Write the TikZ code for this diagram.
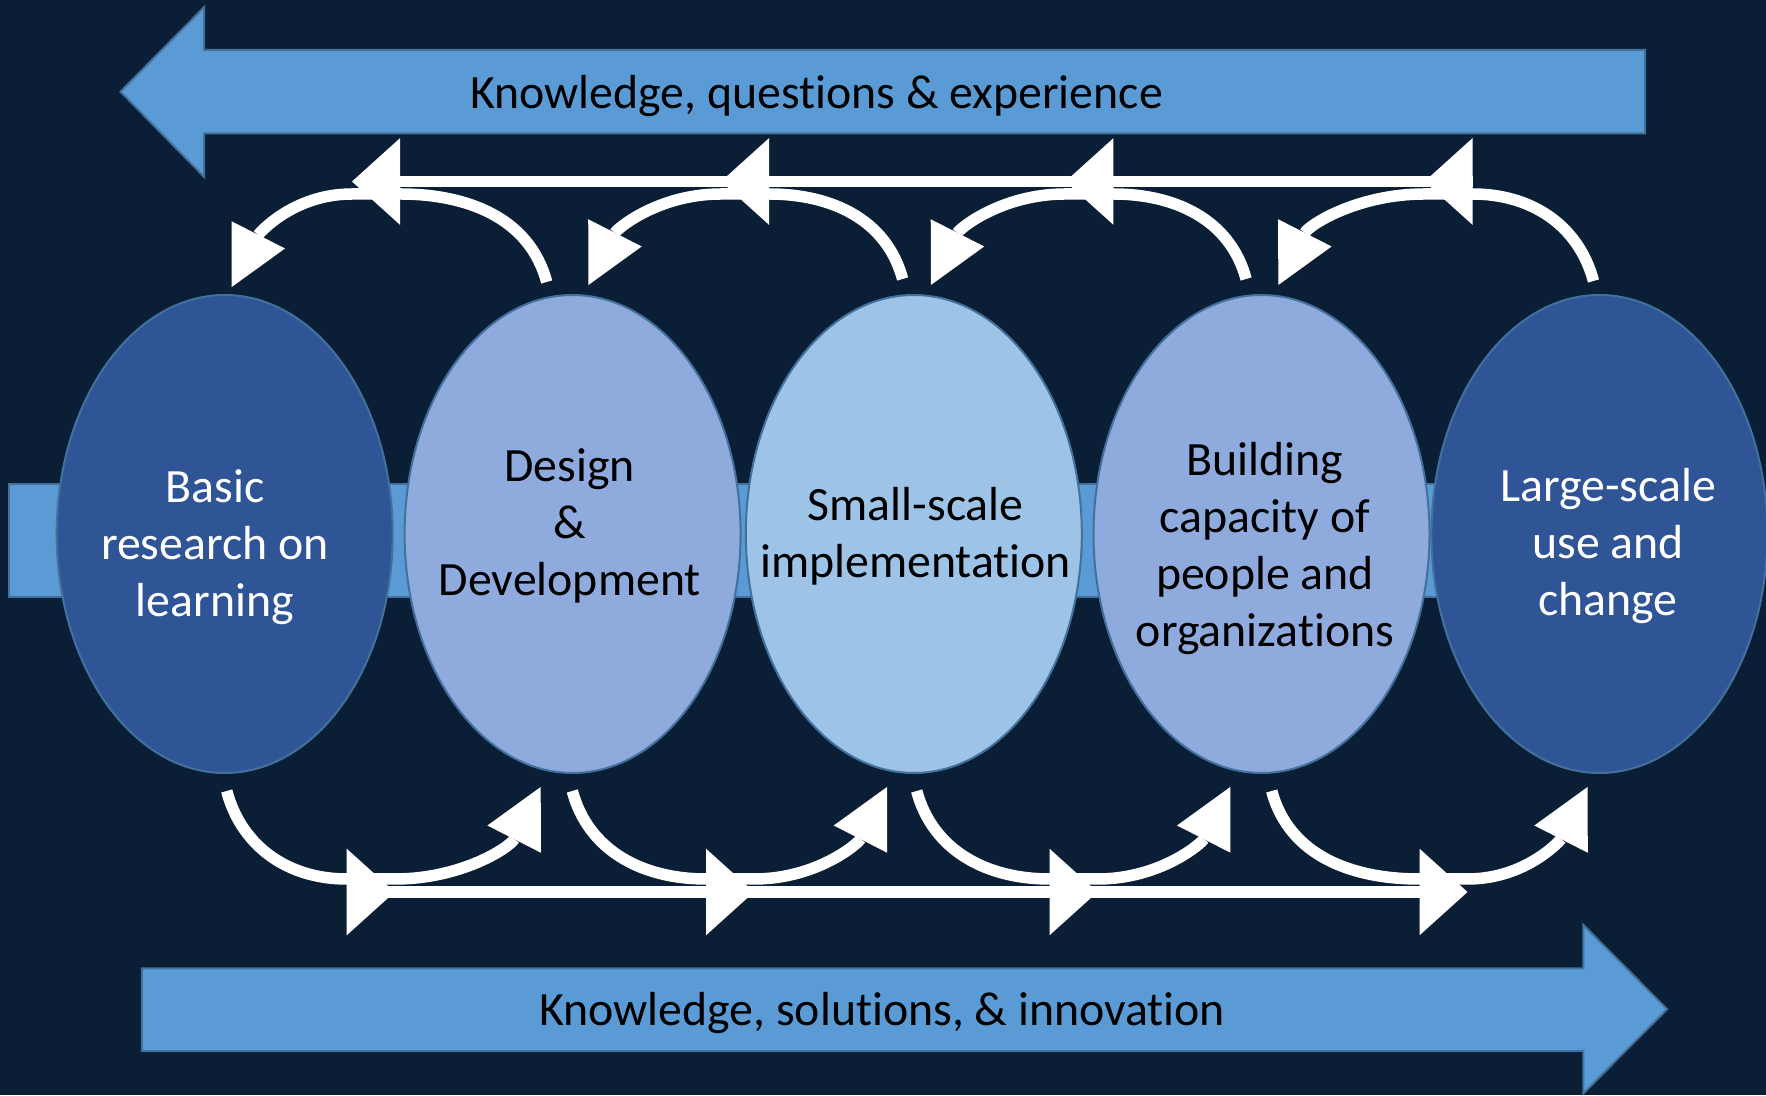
\documentclass[tikz,border=0pt]{standalone}
\usepackage{fontspec}
\setmainfont{Carlito}[Ligatures=NoCommon]
\usetikzlibrary{shapes.geometric,arrows.meta}

\definecolor{night}{HTML}{0A1F35}
\definecolor{deepblue}{HTML}{2F5597}
\definecolor{paleblue}{HTML}{8FAADC}
\definecolor{skyblue}{HTML}{9DC3E6}
\definecolor{bandblue}{HTML}{5B9BD5}
\definecolor{edgeblue}{HTML}{41719C}

\begin{document}
\begin{tikzpicture}[x=1pt, y=1pt]
\tikzstyle{stage}=[ellipse, draw=edgeblue, line width=2pt, minimum width=336pt, minimum height=478pt, inner sep=0pt]
\tikzstyle{stagetxt}=[align=center, inner sep=0pt, font=\fontsize{47.8}{57}\selectfont]
\tikzstyle{bandtxt}=[inner sep=0pt, anchor=base, font=\fontsize{47.8}{57}\selectfont]
\tikzstyle{band}=[fill=bandblue, draw=edgeblue, line width=2pt]
\tikzstyle{track}=[draw=white, line width=11.7pt, -{Triangle[length=48pt, width=86.6pt, line width=0pt]}]
\tikzstyle{hop}=[draw=white, line width=11.5pt, -{Triangle[length=58.5pt, width=60pt, line width=0pt]}]

\path[use as bounding box, fill=night] (0,0) rectangle (1766,1095);

% band behind the stages
\draw[band] (8.6,498.3) rectangle (1600,611);

\node[stage, fill=deepblue] (basic) at (224.7,561) {};
\node[stage, fill=paleblue] (design) at (572.6,561) {};
\node[stage, fill=skyblue] (small) at (913.8,561) {};
\node[stage, fill=paleblue] (capacity) at (1261.5,561) {};
\node[stage, fill=deepblue] (large) at (1599.4,561) {};

\node[stagetxt, text=white] (basictxt) at (214.9,547) {Basic\strut\\research on\strut\\learning\strut};
\node[stagetxt] (designtxt) at (569.8,567.5) {Design\strut\\\&\strut\\Development\strut};
\node[stagetxt] (smalltxt) at (915.7,557.2) {Small-scale\strut\\implementation\strut};
\node[stagetxt] (capacitytxt) at (1265,545.6) {Building\strut\\capacity of\strut\\people and\strut\\organizations\strut};
\node[stagetxt, text=white] (largetxt) at (1608,548.1) {Large-scale\strut\\use and\strut\\change\strut};

% big arrows
\draw[band] (1645,1045) -- (204,1045) -- (204,1087.7) -- (120.5,1003.3) -- (204,918.3) -- (204,961.7) -- (1645,961.7) -- cycle;
\node[bandtxt] (backtxt) at (816.6,986.7) {Knowledge, questions \& experience};

\draw[band] (141.8,126.7) -- (1583.4,126.7) -- (1583.4,170) -- (1667.1,85.8) -- (1583.4,1.7) -- (1583.4,44) -- (141.8,44) -- cycle;
\node[bandtxt] (fwdtxt) at (882.2,70) {Knowledge, solutions, \& innovation};

\coordinate (q1) at (400,913.5);
\coordinate (q2) at (769,913.5);
\coordinate (q3) at (1113.4,913.5);
\coordinate (q4) at (1472.5,913.5);
\coordinate (p1) at (346.7,203);
\coordinate (p2) at (706,203);
\coordinate (p3) at (1049.5,203);
\coordinate (p4) at (1419.5,203);

% feedback over the top
\draw[hop] ([shift={(-25.9,12)}]design.north) to[out=105,in=0] ([yshift=-12.5]q1) -- ([shift={(-48,-12.5)}]q1) to[out=180,in=63] ([shift={(7,7)}]basic.north);
\draw[hop] ([shift={(-11.2,15)}]small.north) to[out=105,in=0] ([yshift=-12.5]q2) -- ([shift={(-48,-12.5)}]q2) to[out=180,in=63] ([shift={(15.8,9)}]design.north);
\draw[hop] ([shift={(-15.4,15)}]capacity.north) to[out=105,in=0] ([yshift=-12.5]q3) -- ([shift={(-48,-12.5)}]q3) to[out=180,in=63] ([shift={(17.1,9)}]small.north);
\draw[hop] ([shift={(-5.9,13)}]large.north) to[out=105,in=0] ([yshift=-12.5]q4) -- ([shift={(-48,-12.5)}]q4) to[out=180,in=63] ([shift={(16.8,9)}]capacity.north);

\draw[track] (q4) -- ([xshift=-48]q4);
\draw[track] (q4) -- ([xshift=-48]q3);
\draw[track] (q3) -- ([xshift=-48]q2);
\draw[track] (q2) -- ([xshift=-48]q1);

% feed forward underneath
\draw[hop] ([shift={(2,-17)}]basic.south) to[out=-75,in=180] ([yshift=13]p1) -- ([shift={(48,13)}]p1) to[out=0,in=-117] ([shift={(-31.9,-13)}]design.south);
\draw[hop] ([shift={(-0.3,-17)}]design.south) to[out=-75,in=180] ([yshift=13]p2) -- ([shift={(48,13)}]p2) to[out=0,in=-117] ([shift={(-26.8,-13)}]small.south);
\draw[hop] ([shift={(2.9,-17)}]small.south) to[out=-75,in=180] ([yshift=13]p3) -- ([shift={(48,13)}]p3) to[out=0,in=-117] ([shift={(-31.2,-13)}]capacity.south);
\draw[hop] ([shift={(10.2,-17)}]capacity.south) to[out=-75,in=180] ([yshift=13]p4) -- ([shift={(48,13)}]p4) to[out=0,in=-117] ([shift={(-11.8,-13)}]large.south);

\draw[track] (p1) -- ([xshift=48]p1);
\draw[track] (p1) -- ([xshift=48]p2);
\draw[track] (p2) -- ([xshift=48]p3);
\draw[track] (p3) -- ([xshift=48]p4);
\end{tikzpicture}
\end{document}
